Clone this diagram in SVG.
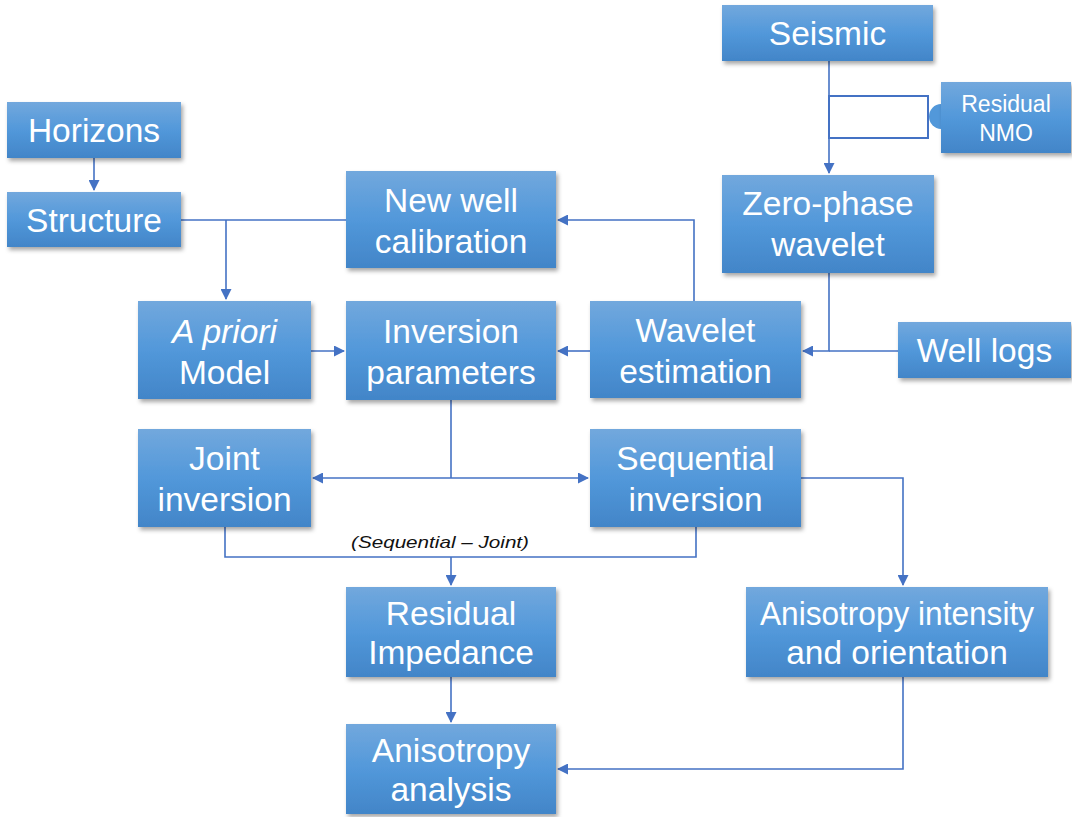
<svg xmlns="http://www.w3.org/2000/svg" width="1072" height="817" viewBox="0 0 1072 817">
<defs>
<linearGradient id="g" x1="0" y1="0" x2="0" y2="1">
<stop offset="0" stop-color="#72a8dd"/>
<stop offset="0.5" stop-color="#5298da"/>
<stop offset="1" stop-color="#4285c8"/>
</linearGradient>
<filter id="sh" x="-10%" y="-10%" width="125%" height="130%">
<feDropShadow dx="2" dy="3" stdDeviation="2" flood-color="#000" flood-opacity="0.35"/>
</filter>
<marker id="ah" markerUnits="userSpaceOnUse" markerWidth="11" markerHeight="11" refX="10" refY="5.5" orient="auto">
<path d="M0,0 L11,5.5 L0,11 z" fill="#4472c4"/>
</marker>
<style>
.box{fill:url(#g);filter:url(#sh);}
.t{font-family:"Liberation Sans",Arial,sans-serif;font-size:33.5px;fill:#fff;text-anchor:middle;}
.s{font-size:23px;}
.i{font-style:italic;}
.c{fill:none;stroke:#4472c4;stroke-width:1.6;}
.lbl{font-family:"Liberation Sans",Arial,sans-serif;font-size:17px;font-style:italic;fill:#111;text-anchor:middle;}
</style>
</defs>
<rect width="1072" height="817" fill="#fff"/>
<g id="connectors">
<path class="c" d="M829,61 V173" marker-end="url(#ah)"/>
<rect x="829" y="96" width="99" height="42" fill="#fff" stroke="#4472c4" stroke-width="2"/>
<path d="M941,104 A12,12.5 0 0 0 941,129 Z" fill="#5298da"/>
<path class="c" d="M94,158 V190" marker-end="url(#ah)"/>
<path class="c" d="M181,220 H346"/>
<path class="c" d="M226,220 V299" marker-end="url(#ah)"/>
<path class="c" d="M311,351 H344" marker-end="url(#ah)"/>
<path class="c" d="M590,351 H558" marker-end="url(#ah)"/>
<path class="c" d="M694,301 V220 H558" marker-end="url(#ah)"/>
<path class="c" d="M829,273 V351 H803" marker-end="url(#ah)"/>
<path class="c" d="M898,351 H829"/>
<path class="c" d="M451,400 V478"/>
<path class="c" d="M451,478 H313" marker-end="url(#ah)"/>
<path class="c" d="M451,478 H588" marker-end="url(#ah)"/>
<path class="c" d="M225,527 V557 H696 V527"/>
<path class="c" d="M451,557 V585" marker-end="url(#ah)"/>
<path class="c" d="M801,478 H903 V585" marker-end="url(#ah)"/>
<path class="c" d="M451,677 V722" marker-end="url(#ah)"/>
<path class="c" d="M903,677 V769 H558" marker-end="url(#ah)"/>
<text class="lbl" x="440" y="548" textLength="178" lengthAdjust="spacingAndGlyphs">(Sequential – Joint)</text>
</g>
<g id="seismic"><rect class="box" x="722" y="5" width="211" height="56"/><text class="t" x="827.5" y="45">Seismic</text></g>
<g id="residual-nmo"><rect class="box" x="941" y="82" width="130" height="71"/><text class="t s" x="1006" y="112">Residual</text><text class="t s" x="1006" y="141">NMO</text></g>
<g id="zero-phase"><rect class="box" x="722" y="175" width="212" height="98"/><text class="t" x="828" y="215">Zero-phase</text><text class="t" x="828" y="256">wavelet</text></g>
<g id="horizons"><rect class="box" x="7" y="102" width="174" height="56"/><text class="t" x="94" y="142">Horizons</text></g>
<g id="structure"><rect class="box" x="7" y="192" width="174" height="55"/><text class="t" x="94" y="232">Structure</text></g>
<g id="new-well"><rect class="box" x="346" y="171" width="210" height="97"/><text class="t" x="451" y="212">New well</text><text class="t" x="451" y="253">calibration</text></g>
<g id="apriori"><rect class="box" x="138" y="301" width="173" height="98"/><text class="t i" x="224.5" y="343">A priori</text><text class="t" x="224.5" y="384">Model</text></g>
<g id="inversion-params"><rect class="box" x="346" y="301" width="210" height="99"/><text class="t" x="451" y="343">Inversion</text><text class="t" x="451" y="384">parameters</text></g>
<g id="wavelet-est"><rect class="box" x="590" y="301" width="211" height="97"/><text class="t" x="695.5" y="342">Wavelet</text><text class="t" x="695.5" y="383">estimation</text></g>
<g id="well-logs"><rect class="box" x="898" y="322" width="173" height="56"/><text class="t" x="984.5" y="362">Well logs</text></g>
<g id="joint"><rect class="box" x="138" y="429" width="173" height="98"/><text class="t" x="224.5" y="470">Joint</text><text class="t" x="224.5" y="511">inversion</text></g>
<g id="sequential"><rect class="box" x="590" y="429" width="211" height="98"/><text class="t" x="695.5" y="470">Sequential</text><text class="t" x="695.5" y="511">inversion</text></g>
<g id="residual-imp"><rect class="box" x="346" y="587" width="210" height="90"/><text class="t" x="451" y="625">Residual</text><text class="t" x="451" y="664">Impedance</text></g>
<g id="anis-int"><rect class="box" x="746" y="587" width="302" height="90"/><text class="t" x="897" y="625" textLength="274" lengthAdjust="spacingAndGlyphs">Anisotropy intensity</text><text class="t" x="897" y="664">and orientation</text></g>
<g id="anis-anal"><rect class="box" x="346" y="724" width="210" height="90"/><text class="t" x="451" y="762">Anisotropy</text><text class="t" x="451" y="801">analysis</text></g>
</svg>
